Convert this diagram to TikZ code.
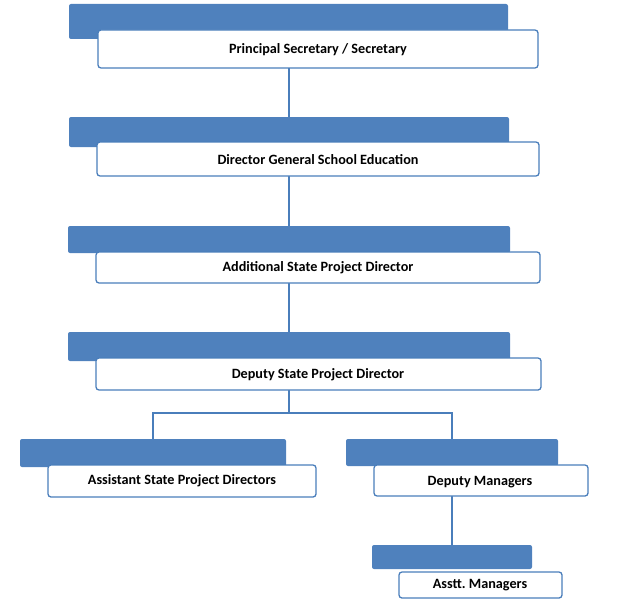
\documentclass[tikz,border=0pt]{standalone}
\usepackage{fontspec}
\setmainfont{Carlito}
\definecolor{obl}{HTML}{4F81BD}
\definecolor{oline}{HTML}{4A7EBB}
\tikzset{
  bluebar/.style={fill=obl, draw=none, rounded corners=2pt},
  whitebox/.style={fill=white, draw=oline, line width=1.3pt, rounded corners=3pt},
  lbl/.style={font=\bfseries\fontsize{14.2}{16}\selectfont, text=black, inner sep=0pt, anchor=base},
  conn/.style={draw=oline, line width=1.5pt}
}
\newcommand{\orgbox}[9]{%
  % #1 name, #2-#5 blue x1 y1 x2 y2, #6-#9 white x1 y1 x2 y2
  \path[bluebar] (#2,#3) rectangle (#4,#5);
  \coordinate (#1b) at ({(#2+#4)/2},#3);
  \path[whitebox] (#6,#7) rectangle (#8,#9);
  \coordinate (#1w) at ({(#6+#8)/2},{(#7+#9)/2});
}
\begin{document}
\begin{tikzpicture}[x=1pt,y=-1pt]
\frenchspacing
\useasboundingbox (0,0) rectangle (632,602);
% connectors first (behind boxes)
\coordinate (c1) at (289,66);
\coordinate (c2) at (289,118);
\draw[conn] (c1) -- (c2);
\coordinate (c3) at (289,174);
\coordinate (c4) at (289,226);
\draw[conn] (c3) -- (c4);
\coordinate (c5) at (289,281);
\coordinate (c6) at (289,333);
\draw[conn] (c5) -- (c6);
\coordinate (c7) at (289,388);
\coordinate (c8) at (289,413);
\coordinate (l1) at (153,413);
\coordinate (l2) at (153,440);
\coordinate (r1) at (452,413);
\coordinate (r2) at (452,440);
\draw[conn] (c7) -- (c8);
\draw[conn] (l2) -- (l1) -- (r1) -- (r2);
\coordinate (d1) at (452,495);
\coordinate (d2) at (452,546);
\draw[conn] (d1) -- (d2);
% boxes
\orgbox{a}{69}{4}{508}{39}{98}{30}{538}{68}
\node[lbl] (ta) at (318,54) {Principal Secretary / Secretary};
\orgbox{b}{69}{117}{509}{147}{97}{142}{539}{176}
\node[lbl] (tb) at (318,164) {Director General School Education};
\orgbox{c}{68}{226}{510}{253}{96}{252}{540}{283}
\node[lbl] (tc) at (318,271) {Additional State Project Director};
\orgbox{d}{68}{332}{510}{361}{96}{358}{541}{390}
\node[lbl] (td) at (318,378) {Deputy State Project Director};
\orgbox{e}{20}{439}{286}{467}{48}{465}{316}{497}
\node[lbl] (te) at (182,484) {Assistant State Project Directors};
\orgbox{f}{346}{439}{558}{466}{374}{465}{588}{496}
\node[lbl] (tf) at (480,485) {Deputy Managers};
\orgbox{g}{372}{545}{532}{569}{399}{572}{562}{598}
\node[lbl] (tg) at (480,588) {Asstt. Managers};
\end{tikzpicture}
\end{document}
